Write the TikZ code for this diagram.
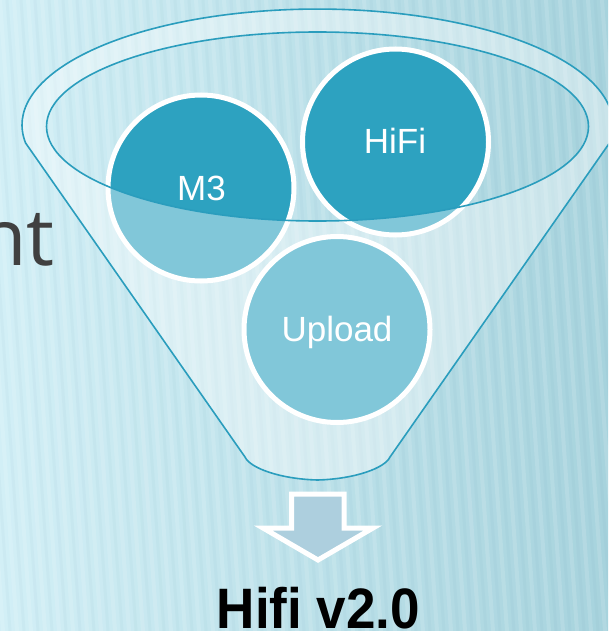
\documentclass[tikz,border=0pt]{standalone}
\usepackage{fontspec}
\setmainfont{Liberation Sans}
\newfontfamily\ntfont{Open Sans}
\definecolor{bgL}{HTML}{D2EFF6}
\definecolor{bgR}{HTML}{A7D3DD}
\definecolor{darkfill}{HTML}{2DA2C0}
\definecolor{tealline}{HTML}{2A9DBD}
\definecolor{arrowfill}{HTML}{ADCFDE}
\definecolor{ntgray}{HTML}{404040}
\tikzset{
  circ/.style={circle, minimum size=186pt, inner sep=0pt, fill=darkfill, draw=white, line width=5pt},
  circlabel/.style={anchor=base, text=white, inner sep=0pt, font=\fontsize{35}{40}\selectfont},
  funnelline/.style={draw=tealline, line width=1.6pt},
  bigarrow/.style={draw=white, line width=5pt, fill=arrowfill},
}
\begin{document}
\begin{tikzpicture}[x=1pt,y=-1pt]
\useasboundingbox (0,0) rectangle (608,631);
\clip (0,0) rectangle (608,631);
% background
\fill[left color=bgL, right color=bgR] (0,0) rectangle (608,631);
\foreach \i in {-6,...,46} {
  \draw[white, opacity=0.13, line width=4pt] (\i*14,0) -- (\i*14+45,631);
  \draw[black!40!cyan, opacity=0.04, line width=3pt] (\i*14+7,0) -- (\i*14+52,631);
}
% partial slide text
\node[anchor=base east, inner sep=0pt, text=ntgray, font=\ntfont\fontsize{79}{90}\selectfont] (nt) at (55,265) {nt};
% circles
\node[circ] (m3) at (201,188) {};
\node[circ] (hifi) at (395.5,142) {};
\node[circ] (upload) at (337,329.5) {};
% funnel body overlay
\fill[white, fill opacity=0.4, even odd rule]
  (25.6,143) arc[start angle=171.1, end angle=368.9, x radius=295.5, y radius=116]
  -- (390,457) .. controls (385,468) and (355,479) .. (317.5,480)
  .. controls (280,479) and (250,468) .. (245,457) -- cycle
  (317.5,126.5) ellipse [x radius=271, y radius=94.5];
% funnel outlines
\path[funnelline]
  (25.6,143) arc[start angle=171.1, end angle=368.9, x radius=295.5, y radius=116]
  -- (390,457) .. controls (385,468) and (355,479) .. (317.5,480)
  .. controls (280,479) and (250,468) .. (245,457) -- cycle;
\path[funnelline] (317.5,126.5) ellipse [x radius=271, y radius=94.5];
% labels
\node[circlabel] (m3t) at (201.5,200) {M3};
\node[circlabel] (hifit) at (395,153.5) {HiFi};
\node[circlabel] (uploadt) at (337,341.5) {Upload};
% arrow
\draw[bigarrow] (291.5,494) -- (344,494) -- (344,528) -- (373,528) -- (318,560)
  -- (263,528) -- (291.5,528) -- cycle;
\node[anchor=base, inner sep=0pt, font=\bfseries\fontsize{57}{62}\selectfont] (out) at (318.5,628.5) {\scalebox{0.93}[1]{Hifi v2.0}};
\end{tikzpicture}
\end{document}
